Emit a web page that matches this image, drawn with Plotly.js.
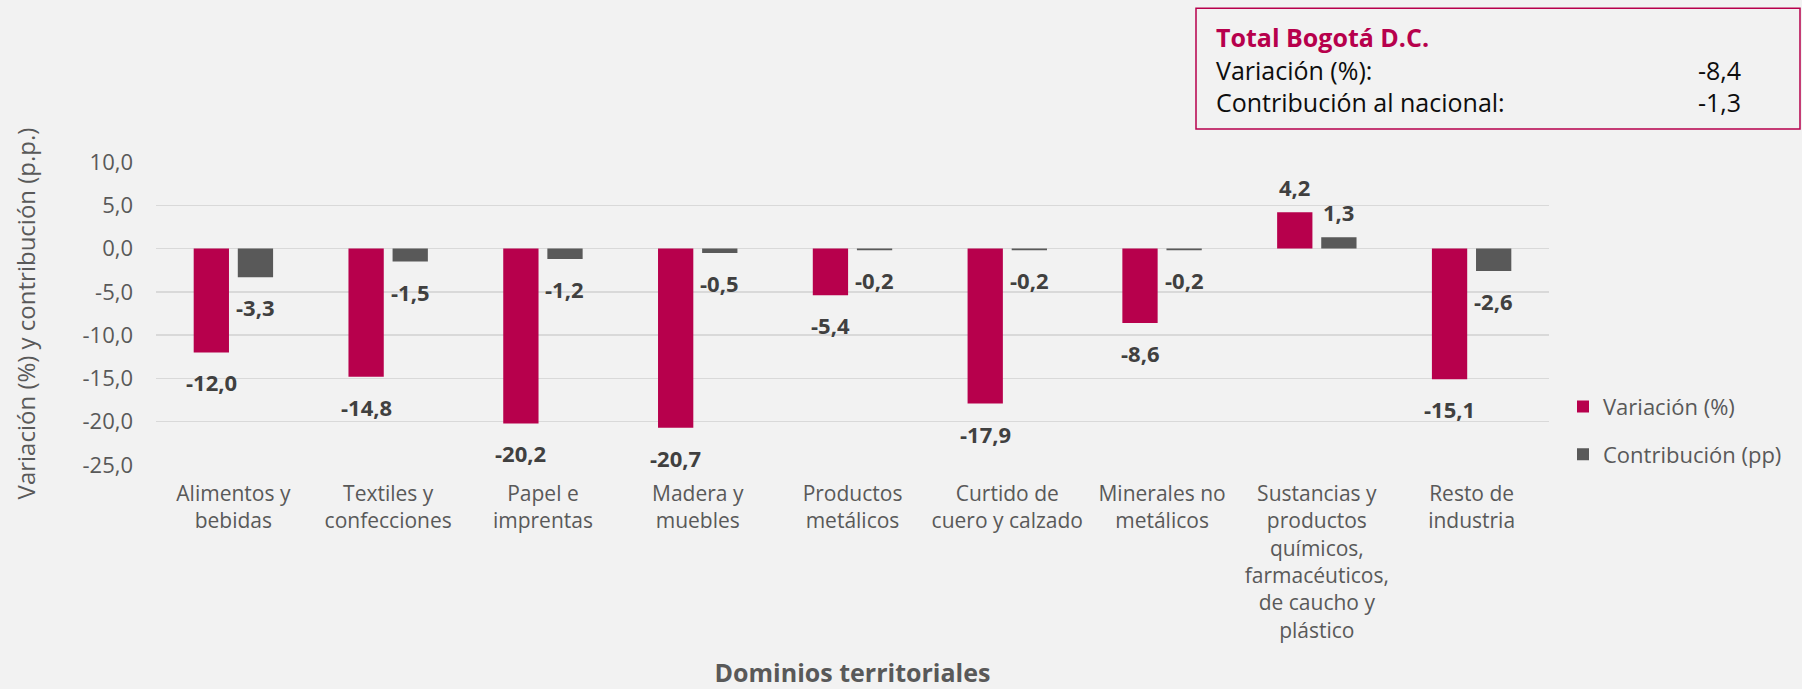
<!DOCTYPE html>
<html>
<head>
<meta charset="utf-8">
<script src="https://cdn.plot.ly/plotly-3.0.1.min.js"></script>
<style>
  html, body { margin: 0; padding: 0; background: #f2f2f2; }
  #chart { width: 1802px; height: 689px; }
</style>
</head>
<body>
<div id="chart"></div>
<script>
// ---- Data ----
const categories = [
  "Alimentos y<br>bebidas",
  "Textiles y<br>confecciones",
  "Papel e<br>imprentas",
  "Madera y<br>muebles",
  "Productos<br>metálicos",
  "Curtido de<br>cuero y calzado",
  "Minerales no<br>metálicos",
  "Sustancias y<br>productos<br>químicos,<br>farmacéuticos,<br>de caucho y<br>plástico",
  "Resto de<br>industria"
];
const variacion = [-12.0, -14.8, -20.2, -20.7, -5.4, -17.9, -8.6, 4.2, -15.1];
const contribucion = [-3.3, -1.5, -1.2, -0.5, -0.2, -0.2, -0.2, 1.3, -2.6];
const seriesNames = ["Variación (%)", "Contribución (pp)"];
const yTickVals = [10, 5, 0, -5, -10, -15, -20, -25];
const totalTitle = "Total Bogotá D.C.";
const totalLabels = ["Variación (%):", "Contribución al nacional:"];
const totalValues = [-8.4, -1.3];

// ---- Style ----
const CRIMSON = "#b7004c";
const GRAY = "#595959";
const TXT = "#595959";
const LBL = "#404040";
const FONT = "Open Sans, Noto Sans, sans-serif";
const fmt = v => v.toFixed(1).replace(".", ",");

const traces = [
  { type: "bar", name: seriesNames[0], x: categories, y: variacion,
    marker: { color: CRIMSON }, legendgroup: "a", hoverinfo: "skip" },
  { type: "bar", name: seriesNames[1], x: categories, y: contribucion,
    marker: { color: GRAY }, legendgroup: "b", hoverinfo: "skip" }
];

const annotations = [];
const series = [variacion, contribucion];
const shifts = [-22, 22];
series.forEach((arr, s) => {
  arr.forEach((v, i) => {
    annotations.push({
      x: categories[i], y: v, xref: "x", yref: "y",
      text: fmt(v), showarrow: false,
      xshift: shifts[s], yshift: v < 0 ? -30 : 25,
      yanchor: "middle", xanchor: "center",
      font: { family: FONT, size: 22, color: LBL, weight: 700 }
    });
  });
});

// Total box (paper coords)
const plotL = 156, plotR = 1549, plotT = 162, plotB = 465.3;
const px2x = p => (p - plotL) / (plotR - plotL);
const py2y = p => (plotB - p) / (plotB - plotT);

annotations.push({
  xref: "paper", yref: "paper", x: px2x(1214), y: py2y(69),
  xanchor: "left", yanchor: "middle", align: "left", showarrow: false,
  text: '<b><span style="color:' + CRIMSON + '">' + totalTitle + '</span></b><br>' +
        totalLabels.join("<br>"),
  font: { family: FONT, size: 25, color: "#0d0d0d" }
});
annotations.push({
  xref: "paper", yref: "paper", x: px2x(1743), y: py2y(69),
  xanchor: "right", yanchor: "middle", align: "right", showarrow: false,
  text: "&nbsp;<br>" + totalValues.map(fmt).join("<br>"),
  font: { family: FONT, size: 25, color: "#0d0d0d" }
});

const layout = {
  width: 1802, height: 689,
  paper_bgcolor: "#f2f2f2", plot_bgcolor: "#f2f2f2",
  margin: { l: plotL, r: 1802 - plotR, t: plotT, b: 689 - plotB },
  barmode: "group", bargap: 0.43, bargroupgap: 0.2,
  font: { family: FONT, color: TXT, size: 20 },
  xaxis: {
    tickfont: { family: FONT, size: 21, color: TXT },
    showgrid: false, showline: false, ticks: "",
    ticklabelstandoff: 14,
    automargin: false,
    title: { text: "<b>Dominios territoriales</b>", font: { family: FONT, size: 25, color: TXT }, standoff: 29 }
  },
  yaxis: {
    range: [-25, 10], tickvals: yTickVals, ticktext: yTickVals.map(fmt),
    tickfont: { family: FONT, size: 22, color: TXT },
    showgrid: true, gridcolor: "#d9d9d9", gridwidth: 1.5,
    zeroline: true, zerolinecolor: "#d9d9d9", zerolinewidth: 1.5,
    showline: false, ticks: "", ticklabelstandoff: 22,
    automargin: false,
    title: { text: "Variación (%) y contribución (p.p.)", font: { family: FONT, size: 24, color: TXT }, standoff: 40 }
  },
  legend: {
    x: px2x(1563), xanchor: "left", y: py2y(386), yanchor: "top",
    font: { family: FONT, size: 22, color: TXT },
    bgcolor: "rgba(0,0,0,0)", tracegroupgap: 16
  },
  shapes: [{
    type: "rect", xref: "paper", yref: "paper",
    x0: px2x(1196), x1: px2x(1800), y0: py2y(129), y1: py2y(8),
    line: { color: CRIMSON, width: 1.5 }, fillcolor: "rgba(0,0,0,0)"
  }],
  annotations: annotations,
  showlegend: true
};

Plotly.newPlot("chart", traces, layout, { staticPlot: true, displayModeBar: false });
</script>
</body>
</html>
